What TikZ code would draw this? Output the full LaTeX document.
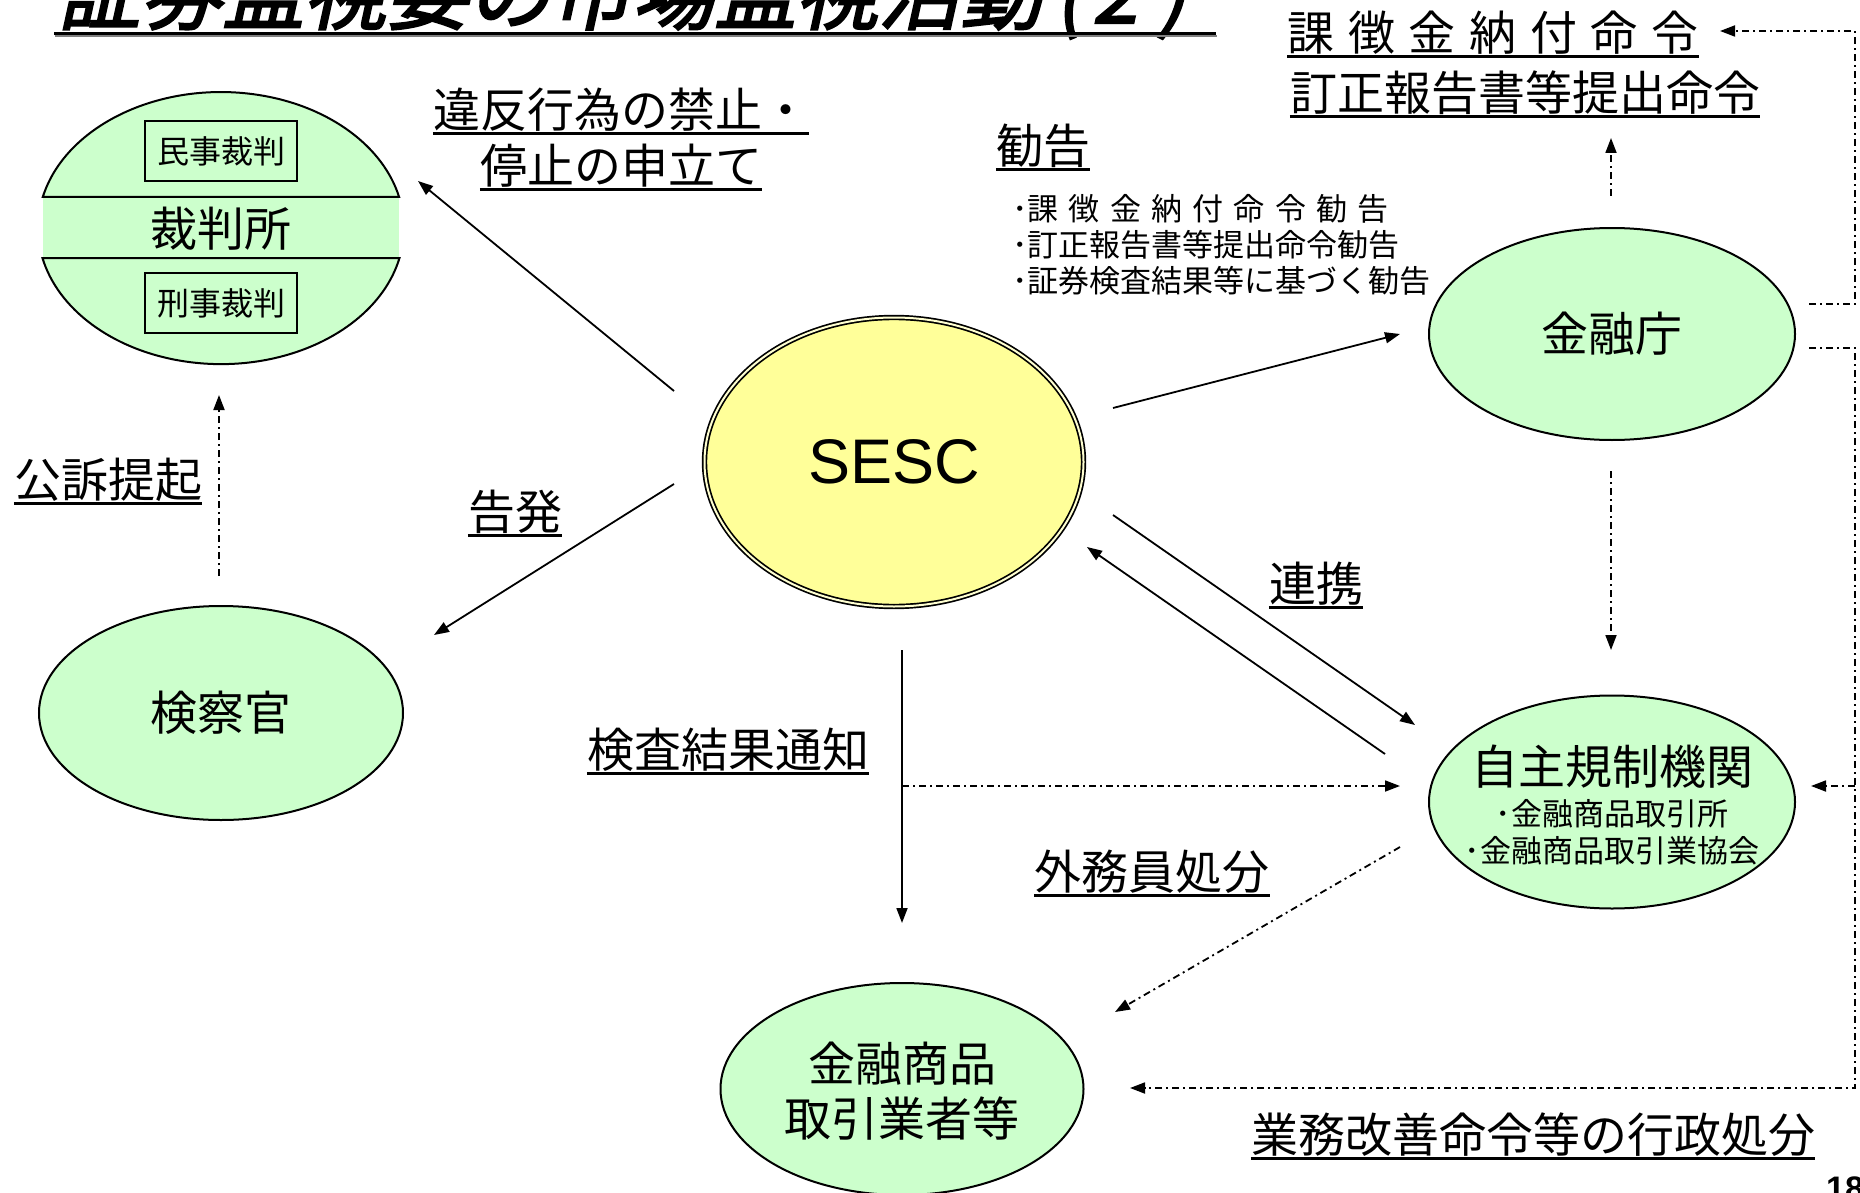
\documentclass[tikz,border=0pt]{standalone}
\usepackage{fontspec}
\setmainfont{Noto Sans CJK JP}
\newfontfamily\arialf{Liberation Sans}
\newfontfamily\titlef[FakeSlant=0.22,FakeBold=2.5]{Noto Sans CJK JP}
\usetikzlibrary{shapes.geometric,arrows.meta}
\definecolor{lgreen}{HTML}{CCFFCC}
\definecolor{lyellow}{HTML}{FFFF99}
\tikzset{
  fsL/.style={font=\fontsize{47}{52}\selectfont},
  lbl/.style={fsL, inner sep=0pt, text height=41pt, text depth=6pt},
  sub/.style={font=\fontsize{31}{34}\selectfont, inner sep=0pt, text height=27pt, text depth=4pt},
  ulr/.style={line width=3pt, yshift=2.5pt},
  ell/.style={ellipse, draw, line width=2pt, fill=lgreen, inner sep=0pt, fsL},
  cbox/.style={draw, line width=1.8pt, minimum width=152pt, minimum height=60pt, inner sep=0pt, font=\fontsize{32}{34}\selectfont},
  arr/.style={-{Triangle[length=15pt,width=11pt]}, line width=1.8pt},
  dd/.style={dash pattern=on 7pt off 4pt on 2pt off 4pt, line width=1.8pt},
}
\newcommand\ulnode[4]{%
  \node[lbl] (#1) at (#2) {#4};
  \draw[ulr] (#1.south west) -- (#1.south east);}
\begin{document}
\begin{tikzpicture}[x=1pt,y=-1pt]
\useasboundingbox (0,0) rectangle (1860,1193);
\clip (0,0) rectangle (1860,1193);
\fill[white] (0,0) rectangle (1860,1193);

% title (cut off at top, as in the original)
\node[anchor=base west, inner sep=0pt, font=\titlef\fontsize{82}{90}\selectfont] (title) at (58,23) {証券監視委の市場監視活動\hspace{0.15em}(\hspace{0.12em}2\hspace{0.25em})};
\fill[black] (54,32) rectangle (1216,35.5);
\fill[gray] (55,35.5) rectangle (1217,37.5);

% court
\node[minimum width=356pt, minimum height=272pt, inner sep=0pt] (court) at (221,228) {};
\fill[lgreen] (43,197) rectangle (399,258);
\draw[line width=2pt, fill=lgreen] (42.8,197) arc[start angle=193.2, end angle=346.8, x radius=183, y radius=136] -- cycle;
\draw[line width=2pt, fill=lgreen] (399.5,258) arc[start angle=12.7, end angle=167.3, x radius=183, y radius=136] -- cycle;
\node[lbl] (saibansho) at (221,229) {裁判所};
\node[cbox] (minji) at (221,151) {民事裁判};
\node[cbox] (keiji) at (221,303) {刑事裁判};

% prosecutor
\node[ell, minimum width=364pt, minimum height=214pt] (kensatsu) at (221,713) {検察官};

% SESC
\node[ellipse, draw, line width=1.7pt, double=lyellow!45!white, double distance=2pt, fill=lyellow,
  minimum width=379pt, minimum height=289pt, inner sep=0pt, font=\arialf\fontsize{63}{63}\selectfont] (sesc) at (894,462) {SESC};

% FSA
\node[ell, minimum width=366pt, minimum height=212pt] (fsa) at (1612,334) {金融庁};

% SRO
\node[ell, minimum width=366pt, minimum height=213pt] (sro) at (1612,802) {};
\node[lbl] (sro1) at (1612,767) {自主規制機関};
\node[sub] (sro2) at (1612,814) {･金融商品取引所};
\node[sub] (sro3) at (1612,851) {･金融商品取引業協会};

% firms
\node[ell, minimum width=363pt, minimum height=212pt] (firm) at (902,1089) {};
\node[lbl] (firm1) at (902,1064) {金融商品};
\node[lbl] (firm2) at (902,1119) {取引業者等};

% labels
\ulnode{lkoso}{108,480}{}{公訴提起}
\ulnode{lkoku}{515,512}{}{告発}
\ulnode{lihan}{621,110}{}{違反行為の禁止・}
\ulnode{lteishi}{621,166}{}{停止の申立て}
\ulnode{lkankoku}{1043,146}{}{勧告}
\ulnode{lrenkei}{1316,584}{}{連携}
\ulnode{lkensa}{728,750}{}{検査結果通知}
\ulnode{lgaimu}{1152,872}{}{外務員処分}
\ulnode{lgyomu}{1533,1135}{}{業務改善命令等の行政処分}
\ulnode{lkacho}{1493,33}{}{課\hspace{0.29em}徴\hspace{0.29em}金\hspace{0.29em}納\hspace{0.29em}付\hspace{0.29em}命\hspace{0.29em}令}
\ulnode{lteisei}{1525,93}{}{訂正報告書等提出命令}

\node[sub, anchor=west] (b1) at (1012,209) {･課\hspace{0.33em}徴\hspace{0.33em}金\hspace{0.33em}納\hspace{0.33em}付\hspace{0.33em}命\hspace{0.33em}令\hspace{0.33em}勧\hspace{0.33em}告};
\node[sub, anchor=west] (b2) at (1012,245) {･訂正報告書等提出命令勧告};
\node[sub, anchor=west] (b3) at (1012,281) {･証券検査結果等に基づく勧告};

% page number (cut off at the corner, as in the original)
\node[anchor=north west, inner sep=0pt, font=\arialf\bfseries\fontsize{34}{34}\selectfont] (pg) at (1826,1177) {18};

% connectors
\coordinate (a1s) at (674,391); \coordinate (a1e) at (418,181);
\draw[arr] (a1s) -- (a1e);
\coordinate (a2s) at (674,484); \coordinate (a2e) at (434,635);
\draw[arr] (a2s) -- (a2e);
\coordinate (a3s) at (219,576); \coordinate (a3e) at (219,395);
\draw[arr,dd] (a3s) -- (a3e);
\coordinate (a4s) at (1113,408); \coordinate (a4e) at (1400,334);
\draw[arr] (a4s) -- (a4e);
\coordinate (a5s) at (1113,515); \coordinate (a5e) at (1415,725);
\draw[arr] (a5s) -- (a5e);
\coordinate (a6s) at (1385,754); \coordinate (a6e) at (1087,547);
\draw[arr] (a6s) -- (a6e);
\coordinate (a7s) at (902,650); \coordinate (a7e) at (902,923);
\draw[arr] (a7s) -- (a7e);
\coordinate (a8s) at (902,786); \coordinate (a8e) at (1400,786);
\draw[arr,dd] (a8s) -- (a8e);
\coordinate (a9s) at (1400,847); \coordinate (a9e) at (1115,1012);
\draw[arr,dd] (a9s) -- (a9e);
\coordinate (a10s) at (1611,471); \coordinate (a10e) at (1611,650);
\draw[arr,dd] (a10s) -- (a10e);
\coordinate (a11s) at (1611,196); \coordinate (a11e) at (1611,138);
\draw[arr,dd] (a11s) -- (a11e);
\coordinate (r1) at (1809,304); \coordinate (r2) at (1855,304);
\coordinate (r3) at (1855,31); \coordinate (r4) at (1720,31);
\draw[arr,dd] (r1) -- (r2) -- (r3) -- (r4);
\coordinate (q1) at (1809,348); \coordinate (q2) at (1855,348);
\coordinate (q3) at (1855,1088); \coordinate (q4) at (1130,1088);
\draw[arr,dd] (q1) -- (q2) -- (q3) -- (q4);
\coordinate (qb) at (1855,786); \coordinate (qbe) at (1811,786);
\draw[arr,dd] (qb) -- (qbe);
\end{tikzpicture}
\end{document}
